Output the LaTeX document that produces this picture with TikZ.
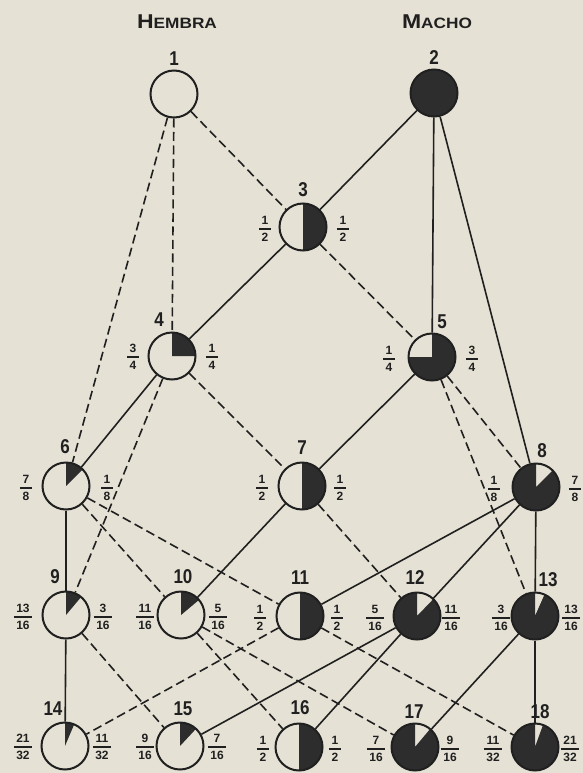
\documentclass[tikz,border=0pt]{standalone}
\usepackage{fontspec}
\usepackage{amsmath}
\setmainfont{Liberation Sans}
\definecolor{paper}{RGB}{229,225,212}
\definecolor{ink}{RGB}{32,32,32}
\definecolor{dark}{RGB}{45,45,45}
\newcommand\numfont{\fontsize{20}{20}\selectfont\bfseries}
\newcommand\fracfont{\fontsize{12}{12}\selectfont\bfseries}
\newcommand\nm[1]{\scalebox{0.85}[1]{#1}}
\newcommand\fr[2]{$\genfrac{}{}{1.3pt}{0}{\hbox{\kern2.5pt\fracfont #1\kern2.5pt}}{\hbox{\kern2.5pt\fracfont #2\kern2.5pt}}$}
\newcommand\smcaps[2]{\bfseries\fontsize{20}{20}\selectfont #1\fontsize{15}{15}\selectfont #2}
\begin{document}
\begin{tikzpicture}[x=1pt,y=1pt,
  ball/.style={circle, draw=ink, line width=2pt, minimum size=47pt, inner sep=0pt, fill=paper},
  blk/.style 2 args={path picture={\fill[dark] (path picture bounding box.center) -- ++(#1:30) arc[start angle=#1,end angle=#2,radius=30] -- cycle;}},
  num/.style={text=ink, font=\numfont, inner sep=0pt},
  frc/.style={text=ink, inner sep=0pt},
  ttl/.style={text=ink, inner sep=0pt},
  fem/.style={draw=ink, line width=1.6pt, dash pattern=on 9pt off 4.5pt},
  mal/.style={draw=ink, line width=1.6pt}]
\fill[paper] (0,0) rectangle (583,-773);
\useasboundingbox (0,0) rectangle (583,-773);

% titles
\node[ttl] (hembra) at (177,-22) {\scalebox{1.15}[1]{\smcaps{H}{EMBRA}}};
\node[ttl] (macho) at (437,-22) {\scalebox{1.15}[1]{\smcaps{M}{ACHO}}};

% circles
\node[ball] (n1) at (174,-94) {};
\node[ball, fill=dark] (n2) at (434,-93) {};
\node[ball, blk={90}{-90}] (n3) at (303,-227) {};
\node[ball, blk={90}{0}] (n4) at (172,-356) {};
\node[ball, blk={90}{-180}] (n5) at (432,-357) {};
\node[ball, blk={90}{45}] (n6) at (66,-486) {};
\node[ball, blk={90}{-90}] (n7) at (302,-486) {};
\node[ball, blk={45}{-270}] (n8) at (536,-487) {};
\node[ball, blk={90}{50}] (n9) at (66,-615) {};
\node[ball, blk={90}{40}] (n10) at (181,-615) {};
\node[ball, blk={90}{-90}] (n11) at (300,-616) {};
\node[ball, blk={46}{-270}] (n12) at (417,-616) {};
\node[ball, blk={66}{-270}] (n13) at (535,-616) {};
\node[ball, blk={90}{67}] (n14) at (65,-746) {};
\node[ball, blk={90}{47}] (n15) at (180,-746) {};
\node[ball, blk={90}{-90}] (n16) at (299,-747) {};
\node[ball, blk={50}{-270}] (n17) at (415,-747) {};
\node[ball, blk={70}{-270}] (n18) at (535,-747) {};

% numbers
\node[num] (t1) at (174,-59) {\nm{1}};
\node[num] (t2) at (434,-58) {\nm{2}};
\node[num] (t3) at (303,-190) {\nm{3}};
\node[num] (t4) at (159,-320) {\nm{4}};
\node[num] (t5) at (442,-322) {\nm{5}};
\node[num] (t6) at (65,-447) {\nm{6}};
\node[num] (t7) at (302,-448) {\nm{7}};
\node[num] (t8) at (542,-451) {\nm{8}};
\node[num] (t9) at (55,-577) {\nm{9}};
\node[num] (t10) at (183,-577) {\nm{10}};
\node[num] (t11) at (300,-578) {\nm{11}};
\node[num] (t12) at (415,-578) {\nm{12}};
\node[num] (t13) at (548,-580) {\nm{13}};
\node[num] (t14) at (53,-709) {\nm{14}};
\node[num] (t15) at (183,-709) {\nm{15}};
\node[num] (t16) at (300,-708) {\nm{16}};
\node[num] (t17) at (414,-712) {\nm{17}};
\node[num] (t18) at (540,-712) {\nm{18}};

% fractions
\node[frc] (f3l) at (265,-229) {\fr{1}{2}};
\node[frc] (f3r) at (343,-229) {\fr{1}{2}};
\node[frc] (f4l) at (133,-357) {\fr{3}{4}};
\node[frc] (f4r) at (212,-357) {\fr{1}{4}};
\node[frc] (f5l) at (389,-359) {\fr{1}{4}};
\node[frc] (f5r) at (472,-359) {\fr{3}{4}};
\node[frc] (f6l) at (26,-488) {\fr{7}{8}};
\node[frc] (f6r) at (107,-488) {\fr{1}{8}};
\node[frc] (f7l) at (262,-488) {\fr{1}{2}};
\node[frc] (f7r) at (340,-488) {\fr{1}{2}};
\node[frc] (f8l) at (494,-489) {\fr{1}{8}};
\node[frc] (f8r) at (575,-489) {\fr{7}{8}};
\node[frc] (f9l) at (23,-617) {\fr{13}{16}};
\node[frc] (f9r) at (103,-617) {\fr{3}{16}};
\node[frc] (f10l) at (145,-617) {\fr{11}{16}};
\node[frc] (f10r) at (218,-617) {\fr{5}{16}};
\node[frc] (f11l) at (260,-618) {\fr{1}{2}};
\node[frc] (f11r) at (337,-618) {\fr{1}{2}};
\node[frc] (f12l) at (375,-618) {\fr{5}{16}};
\node[frc] (f12r) at (451,-618) {\fr{11}{16}};
\node[frc] (f13l) at (501,-618) {\fr{3}{16}};
\node[frc] (f13r) at (571,-618) {\fr{13}{16}};
\node[frc] (f14l) at (23,-747) {\fr{21}{32}};
\node[frc] (f14r) at (102,-747) {\fr{11}{32}};
\node[frc] (f15l) at (145,-747) {\fr{9}{16}};
\node[frc] (f15r) at (217,-747) {\fr{7}{16}};
\node[frc] (f16l) at (263,-749) {\fr{1}{2}};
\node[frc] (f16r) at (335,-749) {\fr{1}{2}};
\node[frc] (f17l) at (376,-749) {\fr{7}{16}};
\node[frc] (f17r) at (450,-749) {\fr{9}{16}};
\node[frc] (f18l) at (493,-749) {\fr{11}{32}};
\node[frc] (f18r) at (570,-749) {\fr{21}{32}};

% female (dashed) lines
\foreach \a/\b in {n1/n3, n1/n4, n1/n6, n3/n5, n4/n7, n4/n9, n5/n8, n5/n13,
                   n6/n10, n6/n11, n7/n12, n9/n15, n10/n16, n10/n17, n11/n14, n11/n18}
  \draw[fem] (\a) -- (\b);
% male (solid) lines
\foreach \a/\b in {n2/n3, n2/n5, n2/n8, n3/n4, n5/n7, n4/n6, n6/n9, n7/n10,
                   n8/n11, n8/n12, n8/n13, n9/n14, n12/n15, n12/n16, n13/n17, n13/n18}
  \draw[mal] (\a) -- (\b);
\end{tikzpicture}
\end{document}
